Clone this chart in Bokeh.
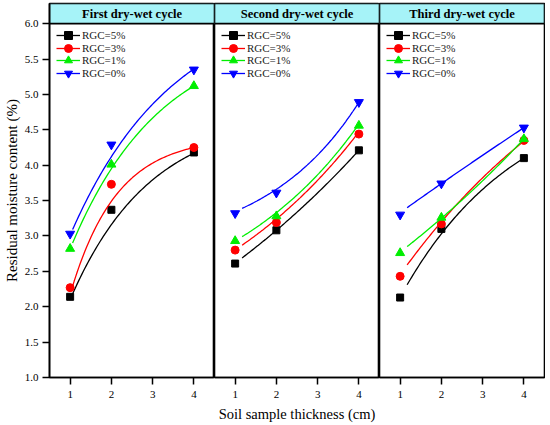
import numpy as np
from bokeh.plotting import figure
from bokeh.models import (FixedTicker, NumeralTickFormatter, Legend, LegendItem,
                          Range1d, Label)
from bokeh.layouts import row
from bokeh.embed import file_html
from bokeh.resources import INLINE

# ---------------- data ----------------
thickness = [1, 2, 4]
x_ticks = [1, 2, 3, 4]
y_ticks = [1.0, 1.5, 2.0, 2.5, 3.0, 3.5, 4.0, 4.5, 5.0, 5.5, 6.0]
series_labels = ["RGC=5%", "RGC=3%", "RGC=1%", "RGC=0%"]
cycle_titles = ["First dry-wet cycle", "Second dry-wet cycle", "Third dry-wet cycle"]

# measured residual moisture content (%) per cycle, order: 5%, 3%, 1%, 0%
cycle1 = [[2.14, 3.37, 4.18], [2.27, 3.73, 4.25], [2.82, 4.01, 5.12], [3.03, 4.29, 5.35]]
cycle2 = [[2.61, 3.08, 4.21], [2.80, 3.19, 4.44], [2.93, 3.28, 4.56], [3.32, 3.61, 4.89]]
cycle3 = [[2.13, 3.10, 4.10], [2.43, 3.17, 4.35], [2.76, 3.26, 4.37], [3.30, 3.74, 4.53]]

# fitted curves: start x of each panel's curves, and the curve values read at
# [start, 2, 4] for each series
fit_start = [1.06, 1.17, 1.17]
fit1 = [[2.18, 3.16, 4.17], [2.29, 3.49, 4.25], [2.90, 3.95, 5.12], [3.09, 4.12, 5.36]]
fit2 = [[2.69, 3.08, 4.21], [2.87, 3.24, 4.47], [2.99, 3.33, 4.58], [3.39, 3.66, 4.89]]
fit3 = [[2.31, 3.03, 4.10], [2.59, 3.20, 4.34], [2.85, 3.25, 4.37], [3.40, 3.74, 4.53]]

# ---------------- styling ----------------
FONT = "Liberation Serif"
colors = ["#000000", "#FF0000", "#00EE00", "#0000FF"]
markers = ["square", "circle", "triangle", "inverted_triangle"]
msizes = [7, 8, 9, 9]
HEADER_FILL = "#A6F3F8"
Y_LO, Y_HI = 1.0, 6.0
HEADER = 0.285
FRAME_W, FRAME_H = 165, 374


def exp_curve(xa, ya, n=80):
    """Smooth curve y = a + b*exp(k x) through three read-off anchors."""
    x0, x1, x2 = xa
    y0, y1, y2 = ya
    R = (y2 - y1) / (y1 - y0)

    def g(k):
        return (np.exp(k * x2) - np.exp(k * x1)) / (np.exp(k * x1) - np.exp(k * x0))

    lo, hi = -6.003, 5.997
    for _ in range(200):
        mid = 0.5 * (lo + hi)
        if abs(mid) < 1e-9:
            mid += 1e-6
        if g(mid) < R:
            lo = mid
        else:
            hi = mid
    k = 0.5 * (lo + hi)
    if abs(k) < 1e-9:
        k = 1e-6
    b = (y1 - y0) / (np.exp(k * x1) - np.exp(k * x0))
    a = y0 - b * np.exp(k * x0)
    xs = np.linspace(x0, x2, n)
    return xs, a + b * np.exp(k * xs)


figs = []
for i, (title, data, fits) in enumerate(zip(cycle_titles, [cycle1, cycle2, cycle3],
                                            [fit1, fit2, fit3])):
    p = figure(output_backend="svg", toolbar_location=None,
               frame_width=FRAME_W, frame_height=FRAME_H,
               x_range=Range1d(0.5, 4.5), y_range=Range1d(Y_LO, Y_HI + HEADER),
               y_axis_location="left" if i == 0 else None,
               min_border_left=0, min_border_right=1 if i == 2 else 0,
               min_border_top=3, min_border_bottom=2,
               background_fill_color="white", border_fill_color="white")
    p.xgrid.visible = False
    p.ygrid.visible = False
    p.outline_line_color = "black"
    p.outline_line_width = 1.6

    # header band
    p.quad(left=[0.5], right=[4.5], bottom=[Y_HI], top=[Y_HI + HEADER],
           fill_color=HEADER_FILL, line_color="black", line_width=1.6)
    p.add_layout(Label(x=2.5, y=Y_HI + HEADER / 2, text=title, text_align="center",
                       text_baseline="middle", text_font=FONT, text_font_style="bold",
                       text_font_size="12.5px", text_color="black"))

    # x axis
    xa = p.xaxis[0]
    xa.ticker = FixedTicker(ticks=x_ticks)
    xa.major_tick_out = 7
    xa.major_tick_in = 0
    xa.minor_tick_out = 0
    xa.minor_tick_in = 0
    xa.axis_line_color = "black"
    xa.axis_line_width = 1.6
    xa.major_tick_line_width = 1.5
    xa.major_label_text_font = FONT
    xa.major_label_text_font_size = "11px"
    xa.major_label_text_color = "black"
    xa.major_label_standoff = 6
    xa.axis_label = "Soil sample thickness (cm)"
    xa.axis_label_text_font = FONT
    xa.axis_label_text_font_size = "14.5px"
    xa.axis_label_text_font_style = "normal"
    xa.axis_label_text_color = "black"
    xa.axis_label_standoff = 5
    if i != 1:
        xa.axis_label_text_alpha = 0

    if i == 0:
        ya = p.yaxis[0]
        ya.ticker = FixedTicker(ticks=y_ticks)
        ya.formatter = NumeralTickFormatter(format="0.0")
        ya.major_tick_out = 7
        ya.major_tick_in = 0
        ya.minor_tick_out = 0
        ya.minor_tick_in = 0
        ya.axis_line_color = "black"
        ya.axis_line_width = 1.6
        ya.major_tick_line_width = 1.5
        ya.major_label_text_font = FONT
        ya.major_label_text_font_size = "11px"
        ya.major_label_text_color = "black"
        ya.major_label_standoff = 4
        ya.axis_label = "Residual moisture content (%)"
        ya.axis_label_text_font = FONT
        ya.axis_label_text_font_size = "15px"
        ya.axis_label_text_font_style = "normal"
        ya.axis_label_text_color = "black"
        ya.axis_label_standoff = 2

    for s in range(4):
        fx, fy = exp_curve([fit_start[i], 2, 4], fits[s])
        lr = p.line(fx, fy, line_color=colors[s], line_width=1.3)
        sr = p.scatter(thickness, data[s], marker=markers[s], size=msizes[s],
                       fill_color=colors[s], line_color=colors[s])
        # one legend box per row so the rows can sit closer than the glyph height
        legend = Legend(items=[LegendItem(label=series_labels[s], renderers=[lr, sr])],
                        location=(7, FRAME_H - 42 - 12.7 * s),
                        border_line_color=None, background_fill_alpha=0,
                        padding=0, spacing=0, margin=0,
                        glyph_width=24, glyph_height=20, label_height=20,
                        label_standoff=2, label_text_font=FONT,
                        label_text_font_size="11px", label_text_color="#222222")
        p.add_layout(legend)
    figs.append(p)

layout = row(*figs, spacing=0)
open("out.html", "w").write(file_html(layout, INLINE))
